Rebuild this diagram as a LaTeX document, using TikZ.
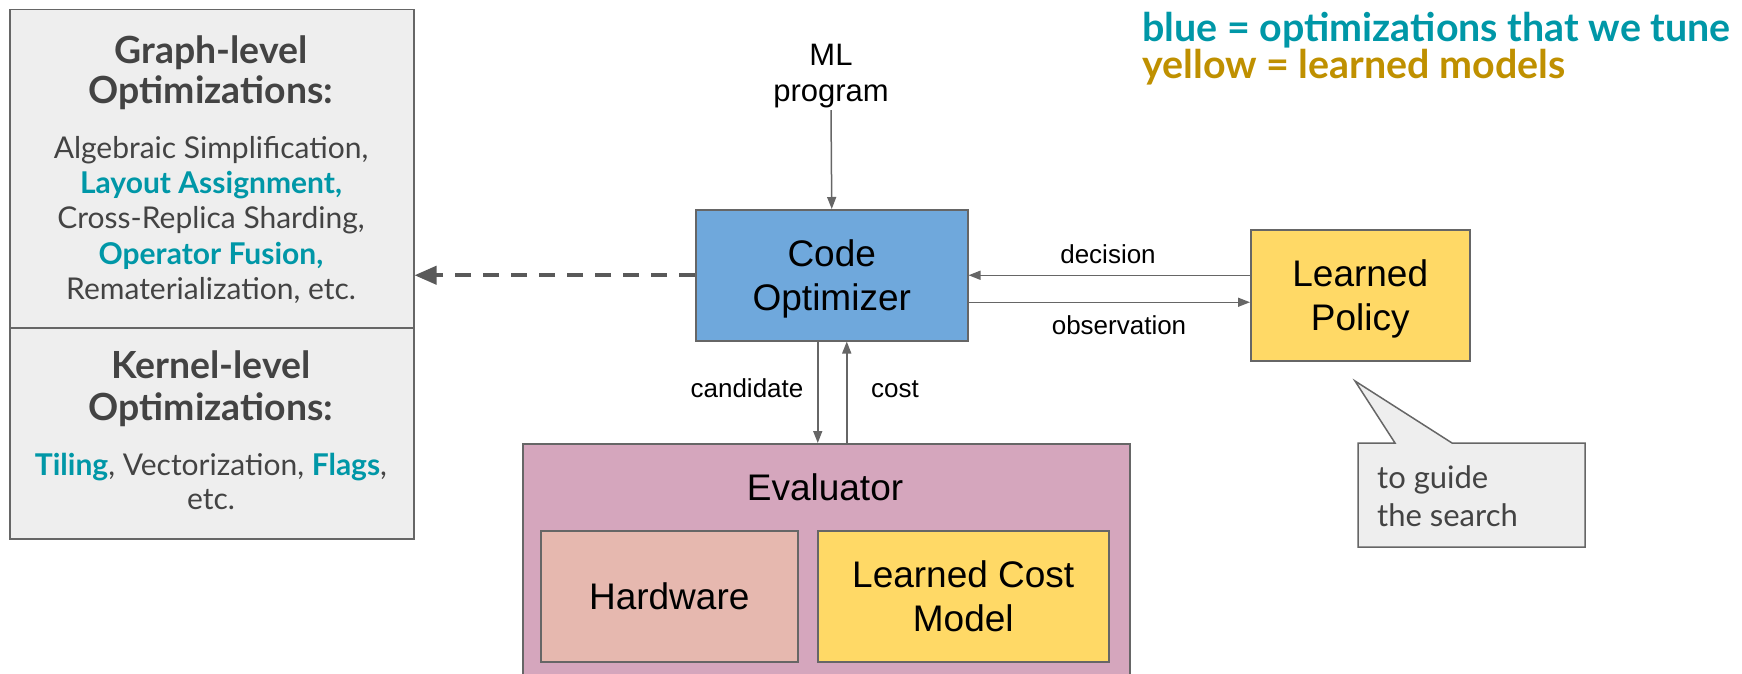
\documentclass[tikz,border=0pt]{standalone}
\usepackage{fontspec}
\setmainfont{Liberation Sans}
\newfontfamily\gs{Lato}
\usetikzlibrary{arrows.meta}
\definecolor{tealc}{HTML}{0097A7}
\definecolor{goldc}{HTML}{BF9000}
\definecolor{txtgray}{HTML}{434343}
\definecolor{linegray}{HTML}{666666}
\definecolor{dashgray}{HTML}{595959}
\definecolor{panelfill}{HTML}{EEEEEE}
\definecolor{bluefill}{HTML}{6FA8DC}
\definecolor{yellowfill}{HTML}{FFD966}
\definecolor{pinkfill}{HTML}{D5A6BD}
\definecolor{redfill}{HTML}{E6B8AF}
\begin{document}
\begin{tikzpicture}[x=1pt,y=-1pt,
  box/.style={draw=linegray, line width=1.5pt, inner sep=0pt, anchor=north west, align=center},
  bigtxt/.style={font=\fontsize{37}{43.5}\selectfont},
  smalltxt/.style={font=\fontsize{26}{30}\selectfont, inner sep=0pt, anchor=base},
  head/.style={font=\gs\bfseries\fontsize{37.4}{41}\selectfont, text=txtgray, inner sep=0pt, anchor=base},
  body/.style={font=\gs\fontsize{30}{36}\selectfont, text=txtgray, inner sep=0pt, anchor=base},
  legend/.style={font=\gs\bfseries\fontsize{39.4}{40}\selectfont, inner sep=0pt, anchor=base west},
  bubtxt/.style={font=\gs\fontsize{31}{38}\selectfont, text=txtgray, inner sep=0pt, anchor=base west},
  arr/.style={draw=linegray, line width=1.5pt, -{Triangle[length=12pt,width=9pt]}},
  dasharr/.style={draw=dashgray, line width=4pt, dash pattern=on 16pt off 12pt, -{Triangle[length=22pt,width=18pt]}}
]
\useasboundingbox (0,0) rectangle (1742,674);

% left panel
\node[box, fill=panelfill, minimum width=404, minimum height=318] (graph) at (9,9) {};
\node[box, fill=panelfill, minimum width=404, minimum height=211] (kernel) at (9,327) {};
\node[head] (g1) at (211,64) {Graph-level};
\node[head] (g2) at (211,104) {Optimizations:};
\node[body] (b1) at (211,158) {Algebraic Simplification,};
\node[body] (b2) at (211,193) {\bfseries\color{tealc}Layout Assignment,};
\node[body] (b3) at (211,228) {Cross-Replica Sharding,};
\node[body] (b4) at (211,264) {\bfseries\color{tealc}Operator Fusion,};
\node[body] (b5) at (211,299) {Rematerialization, etc.};
\node[head] (k1) at (211,378) {Kernel-level};
\node[head] (k2) at (211,420) {Optimizations:};
\node[body] (k3) at (211,475) {{\bfseries\color{tealc}Tiling}, Vectorization, {\bfseries\color{tealc}Flags},};
\node[body] (k4) at (211,509) {etc.};

% legend
\node[legend, text=tealc] (leg1) at (1142,42) {blue = optimizations that we tune};
\node[legend, text=goldc] (leg2) at (1142,79) {yellow = learned models};

% ML program
\node[font=\fontsize{31}{36}\selectfont, align=center, inner sep=2pt] (ml) at (831,76) {ML\\program};

% main boxes
\node[box, bigtxt, text depth=0pt, fill=bluefill, minimum width=272, minimum height=131] (code) at (695,209) {Code\\Optimizer};
\node[box, bigtxt, text depth=0pt, fill=yellowfill, minimum width=219, minimum height=131] (policy) at (1250,229) {Learned\\Policy};
\node[box, fill=pinkfill, minimum width=607, minimum height=260] (eval) at (522,443) {};
\node[bigtxt, inner sep=0pt, anchor=base] (evallbl) at (825,500) {Evaluator};
\node[box, bigtxt, fill=redfill, minimum width=257, minimum height=131] (hw) at (540,530) {Hardware};
\node[box, bigtxt, fill=yellowfill, minimum width=291, minimum height=131] (lcm) at (817,530) {Learned Cost\\Model};

% connector end points
\coordinate (obsS) at ([yshift=-27pt]code.east);
\coordinate (candS) at ([xshift=-14pt]code.south);
\coordinate (costE) at ([xshift=15pt]code.south);

% connectors
\draw[arr] (ml.south) -- (code.north);
\draw[dasharr] (code.west) -- (graph.east |- code.west);
\draw[arr] (policy.west |- code.east) -- (code.east);
\draw[arr] (obsS) -- (policy.west |- obsS);
\draw[arr] (candS) -- (candS |- eval.north);
\draw[arr] (costE |- eval.north) -- (costE);

% connector labels
\node[smalltxt] (dec) at (1108,263) {decision};
\node[smalltxt] (obs) at (1119,334) {observation};
\node[smalltxt] (cand) at (747,397) {candidate};
\node[smalltxt] (cost) at (895,397) {cost};

% speech bubble
\draw[draw=linegray, line width=1.5pt, fill=panelfill, line join=miter]
  (1358,443) -- (1395,443) -- (1355,381) -- (1452,443) -- (1585,443) -- (1585,547) -- (1358,547) -- cycle;
\node[bubtxt] (bub1) at (1377,488) {to guide};
\node[bubtxt] (bub2) at (1377,526) {the search};
\end{tikzpicture}
\end{document}
